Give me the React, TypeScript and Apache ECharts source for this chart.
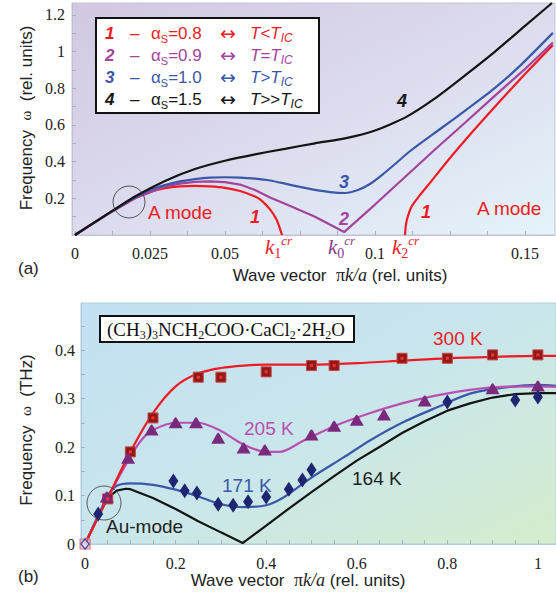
import React, { useEffect, useRef } from 'react';
import * as echarts from 'echarts';

const RED = '#ed1c24';
const PURPLE = '#a3449c';
const PINK = '#b94fb0';
const BLUE = '#3b58a8';
const BLACK = '#141414';

// ---------- Panel (a) ----------
const aXLabels = [0, 0.025, 0.05, 0.1, 0.15];
const aXTicks = [0, 0.0125, 0.025, 0.0375, 0.05, 0.0625, 0.075, 0.0875, 0.1, 0.1125, 0.125, 0.1375, 0.15];
const aYLabels = [0.2, 0.4, 0.6, 0.8, 1, 1.2];
const aYTicks = [0.1, 0.2, 0.3, 0.4, 0.5, 0.6, 0.7, 0.8, 0.9, 1, 1.1, 1.2];

const c4K = [0, 0.01, 0.02, 0.03, 0.04, 0.05, 0.06, 0.07, 0.08, 0.09, 0.1, 0.11, 0.12, 0.13, 0.14, 0.15, 0.159];
const c4W = [0, 0.106, 0.21, 0.295, 0.36, 0.405, 0.44, 0.47, 0.5, 0.527, 0.57, 0.64, 0.745, 0.87, 1.0, 1.14, 1.265];

const c3K = [0, 0.01, 0.02, 0.025, 0.03, 0.035, 0.04, 0.045, 0.05, 0.055, 0.06, 0.065, 0.07, 0.075, 0.08, 0.085, 0.09, 0.0943, 0.0983, 0.1023, 0.1067, 0.1117, 0.1217, 0.1317, 0.14, 0.1483, 0.1593];
const c3W = [0, 0.105, 0.205, 0.245, 0.272, 0.292, 0.305, 0.313, 0.315, 0.313, 0.307, 0.297, 0.28, 0.262, 0.246, 0.234, 0.229, 0.245, 0.278, 0.327, 0.387, 0.458, 0.578, 0.698, 0.802, 0.922, 1.102];

const c2K = [0, 0.01, 0.02, 0.03, 0.035, 0.04, 0.045, 0.05, 0.055, 0.06, 0.065, 0.07, 0.08, 0.0897, 0.1, 0.11, 0.12, 0.13, 0.14, 0.15, 0.1593];
const c2W = [0, 0.105, 0.2, 0.265, 0.28, 0.29, 0.292, 0.288, 0.275, 0.245, 0.205, 0.17, 0.1, 0.016, 0.166, 0.316, 0.466, 0.612, 0.76, 0.905, 1.05];

const c1aK = [0, 0.01, 0.02, 0.025, 0.03, 0.035, 0.04, 0.045, 0.05, 0.055, 0.06, 0.062, 0.065, 0.067, 0.068, 0.069];
const c1aW = [0, 0.105, 0.2, 0.235, 0.255, 0.265, 0.268, 0.265, 0.257, 0.24, 0.21, 0.19, 0.14, 0.09, 0.05, 0];
const c1bK = [0.11, 0.1103, 0.111, 0.1123, 0.115, 0.1183, 0.125, 0.1333, 0.1417, 0.15, 0.1593];
const c1bW = [0, 0.055, 0.104, 0.158, 0.218, 0.284, 0.42, 0.578, 0.731, 0.878, 1.036];

const legendNums = ['1', '2', '3', '4'];
const legendAlpha = ['0.8', '0.9', '1.0', '1.5'];
const legendRel = ['<', '=', '>', '>>'];
const legendColors = [RED, PURPLE, BLUE, BLACK];

// ---------- Panel (b) ----------
const bXLabels = [0, 0.2, 0.4, 0.6, 0.8, 1];
const bXTicks = [0, 0.05, 0.1, 0.15, 0.2, 0.25, 0.3, 0.35, 0.4, 0.45, 0.5, 0.55, 0.6, 0.65, 0.7, 0.75, 0.8, 0.85, 0.9, 0.95, 1];
const bYLabels = [0, 0.1, 0.2, 0.3, 0.4];
const bYTicks = [0, 0.05, 0.1, 0.15, 0.2, 0.25, 0.3, 0.35, 0.4, 0.45];

const t300K = [0, 0.05, 0.1, 0.15, 0.2, 0.25, 0.3, 0.35, 0.4, 0.5, 0.6, 0.7, 0.8, 0.9, 1.0, 1.04];
const t300W = [0, 0.095, 0.19, 0.27, 0.325, 0.352, 0.363, 0.368, 0.37, 0.37, 0.373, 0.378, 0.383, 0.386, 0.388, 0.388];

const t205K = [0, 0.05, 0.1, 0.125, 0.15, 0.2, 0.25, 0.3, 0.35, 0.4, 0.43, 0.48, 0.55, 0.63, 0.7, 0.78, 0.85, 0.92, 1.0, 1.04];
const t205W = [0, 0.095, 0.18, 0.215, 0.235, 0.25, 0.25, 0.233, 0.205, 0.19, 0.19, 0.212, 0.243, 0.27, 0.29, 0.307, 0.318, 0.324, 0.325, 0.324];

const t171K = [0, 0.03, 0.05, 0.07, 0.1, 0.15, 0.2, 0.25, 0.3, 0.35, 0.4, 0.44, 0.5, 0.57, 0.63, 0.7, 0.78, 0.85, 0.92, 1.0, 1.04];
const t171W = [0, 0.06, 0.1, 0.12, 0.125, 0.122, 0.112, 0.098, 0.082, 0.076, 0.08, 0.097, 0.137, 0.178, 0.214, 0.25, 0.283, 0.31, 0.322, 0.328, 0.326];

const t164K = [0, 0.03, 0.05, 0.07, 0.09, 0.1, 0.15, 0.2, 0.25, 0.3, 0.348, 0.4, 0.45, 0.5, 0.55, 0.6, 0.65, 0.7, 0.75, 0.8, 0.85, 0.9, 0.95, 1.0, 1.04];
const t164W = [0, 0.06, 0.095, 0.11, 0.114, 0.113, 0.095, 0.072, 0.047, 0.024, 0.002, 0.038, 0.073, 0.107, 0.14, 0.172, 0.2, 0.229, 0.253, 0.275, 0.29, 0.302, 0.309, 0.311, 0.311];

const sqK = [0.05, 0.1, 0.15, 0.25, 0.3, 0.4, 0.5, 0.55, 0.7, 0.8, 0.9, 1.0];
const sqW = [0.093, 0.19, 0.26, 0.344, 0.344, 0.355, 0.368, 0.368, 0.383, 0.383, 0.39, 0.39];

const triK = [0.048, 0.095, 0.147, 0.2, 0.245, 0.294, 0.35, 0.397, 0.5, 0.55, 0.6, 0.66, 0.75, 0.9, 1.0];
const triW = [0.097, 0.177, 0.235, 0.25, 0.25, 0.218, 0.198, 0.194, 0.225, 0.243, 0.255, 0.266, 0.295, 0.32, 0.326];

const diaK = [0.029, 0.195, 0.22, 0.247, 0.294, 0.327, 0.36, 0.4, 0.45, 0.48, 0.5, 0.8, 0.95, 1.0];
const diaW = [0.062, 0.13, 0.11, 0.105, 0.082, 0.08, 0.087, 0.097, 0.113, 0.132, 0.153, 0.293, 0.297, 0.303];

const originK = [0];
const originW = [0];

const zip = (a: number[], b: number[]) => a.map((v, i) => [v, b[i]]);

const SANS = '"Liberation Sans", Arial, sans-serif';
const SERIF = '"Liberation Serif", "Times New Roman", serif';

function txt(x: number, y: number, text: string, font: string, fill: string, extra: any = {}) {
  return {
    type: 'text', x, y, z: 100,
    style: { text, font, fill, align: 'left', verticalAlign: 'middle', textAlign: 'left', textVerticalAlign: 'middle', ...extra },
  };
}

function richTxt(x: number, y: number, text: string, rich: any, opts: any = {}) {
  const { rotation, align = 'left' } = opts;
  return {
    type: 'text', x, y, z: 100, rotation: rotation || 0,
    style: { text, rich, align, verticalAlign: 'middle', textAlign: align, textVerticalAlign: 'middle' },
  };
}

function kLabel(x: number, y: number, sub: string, color: string) {
  return richTxt(x, y, `{k|k}{s|${sub}}{c|cr}`, {
    k: { fontFamily: SERIF, fontStyle: 'italic', fontSize: 21, fill: color, lineHeight: 26 },
    s: { fontFamily: SERIF, fontSize: 14, fill: color, lineHeight: 26, verticalAlign: 'bottom' },
    c: { fontFamily: SERIF, fontStyle: 'italic', fontSize: 13, fill: color, lineHeight: 26, verticalAlign: 'top' },
  });
}

function buildGraphics() {
  const g: any[] = [];
  // legend box (a)
  g.push({ type: 'rect', z: 90, shape: { x: 96, y: 18, width: 223, height: 95 }, style: { fill: '#ffffff', stroke: '#111', lineWidth: 2 } });
  const rowsY = [33, 55, 77, 99];
  legendNums.forEach((n, i) => {
    const col = legendColors[i];
    const y = rowsY[i];
    g.push(txt(105, y, n, `italic bold 17px ${SANS}`, col));
    g.push(txt(130, y, '–', `17px ${SANS}`, col));
    g.push(richTxt(151, y, `{a|α}{s|S}{a|=${legendAlpha[i]}}`, {
      a: { fontFamily: SANS, fontSize: 17, fill: col, lineHeight: 22 },
      s: { fontFamily: SANS, fontSize: 11, fill: col, lineHeight: 22, verticalAlign: 'bottom' },
    }));
    g.push(txt(220, y, '↔', `19px "DejaVu Sans", sans-serif`, col));
    g.push(richTxt(250, y, `{i|T}{a|${legendRel[i]}}{i|T}{s|IC}`, {
      a: { fontFamily: SANS, fontSize: 17, fill: col, lineHeight: 22 },
      i: { fontFamily: SANS, fontStyle: 'italic', fontSize: 17, fill: col, lineHeight: 22 },
      s: { fontFamily: SANS, fontStyle: 'italic', fontSize: 12, fill: col, lineHeight: 22, verticalAlign: 'bottom' },
    }));
  });
  // curve numbers (a)
  const numFont = `italic bold 18px ${SANS}`;
  g.push(txt(397, 101, '4', numFont, BLACK));
  g.push(txt(339, 182, '3', numFont, BLUE));
  g.push(txt(339, 219, '2', numFont, PURPLE));
  g.push(txt(250, 217, '1', numFont, RED));
  g.push(txt(421, 212, '1', numFont, RED));
  // A mode labels
  g.push(txt(148, 212, 'A mode', `19px ${SANS}`, RED));
  g.push(txt(477, 208, 'A mode', `19px ${SANS}`, RED));
  // circle (a)
  g.push({ type: 'circle', z: 95, shape: { cx: 129, cy: 202, r: 16 }, style: { fill: 'none', stroke: '#333', lineWidth: 0.8 } });
  // k labels
  g.push(kLabel(265, 247, '1', RED));
  g.push(kLabel(328, 247, '0', '#8a3b8c'));
  g.push(kLabel(392, 247, '2', RED));
  // axis titles (a)
  const titleRich = {
    a: { fontFamily: SANS, fontSize: 17, fill: '#222' },
    w: { fontFamily: SERIF, fontSize: 15, fill: '#222' },
    p: { fontFamily: SERIF, fontSize: 18, fill: '#222' },
    i: { fontFamily: SERIF, fontStyle: 'italic', fontSize: 18, fill: '#222' },
  };
  g.push(richTxt(26, 118, '{a|Frequency  }{w|ω}{a|  (rel. units)}', titleRich, { rotation: Math.PI / 2, align: 'center' }));
  g.push(richTxt(340, 275, '{a|Wave vector  }{p|π}{i|k/a}{a| (rel. units)}', titleRich, { align: 'center' }));
  g.push(txt(18, 268, '(a)', `17px ${SANS}`, '#222'));

  // panel (b)
  g.push({ type: 'rect', z: 90, shape: { x: 100, y: 316, width: 254, height: 26 }, style: { fill: '#ffffff', stroke: '#111', lineWidth: 2 } });
  g.push(richTxt(107, 329, '{a|(CH}{s|3}{a|)}{s|3}{a|NCH}{s|2}{a|COO·CaCl}{s|2}{a|·2H}{s|2}{a|O}', {
    a: { fontFamily: SERIF, fontSize: 19, fill: '#111', lineHeight: 24 },
    s: { fontFamily: SERIF, fontSize: 12, fill: '#111', lineHeight: 24, verticalAlign: 'bottom' },
  }));
  g.push(txt(433, 338, '300 K', `19px ${SANS}`, RED));
  g.push(txt(244, 428, '205 K', `19px ${SANS}`, PINK));
  g.push(txt(222, 485, '171 K', `19px ${SANS}`, BLUE));
  g.push(txt(352, 478, '164 K', `19px ${SANS}`, '#222'));
  g.push(txt(106, 526, 'Au-mode', `19px ${SANS}`, '#222'));
  g.push({ type: 'circle', z: 95, shape: { cx: 104, cy: 503, r: 17 }, style: { fill: 'none', stroke: '#333', lineWidth: 0.8 } });
  g.push(richTxt(26, 430, '{a|Frequency  }{w|ω}{a|  (THz)}', titleRich, { rotation: Math.PI / 2, align: 'center' }));
  g.push(richTxt(298, 580, '{a|Wave vector  }{p|π}{i|k/a}{a| (rel. units)}', titleRich, { align: 'center' }));
  g.push(txt(18, 576, '(b)', `17px ${SANS}`, '#222'));
  return g;
}

const lineSeries = (name: string, data: number[][], color: string, idx: number, smooth: number | boolean = false, width = 2.2) => ({
  name, type: 'line', data, xAxisIndex: idx, yAxisIndex: idx, showSymbol: false, symbol: 'none', smooth,
  lineStyle: { color, width }, z: 5, silent: true,
});

export default function App() {
  const ref = useRef<HTMLDivElement>(null);
  useEffect(() => {
    if (!ref.current) return;
    const chart = echarts.init(ref.current, undefined, { renderer: 'svg' });
    const gradA = new echarts.graphic.LinearGradient(0, 0, 1, 1, [
      { offset: 0, color: '#d2c8e1' },
      { offset: 0.5, color: '#dcdbed' },
      { offset: 1, color: '#e4f4fb' },
    ]);
    const gradB = new echarts.graphic.LinearGradient(0, 0, 1, 1, [
      { offset: 0, color: '#c2e0f2' },
      { offset: 0.5, color: '#c9e6ec' },
      { offset: 1, color: '#d5edcd' },
    ]);
    const axisCommon = (labels: number[], ticks: number[], color: string, margin: number) => ({
      type: 'value',
      axisLine: { show: true, onZero: false, lineStyle: { color, width: 1 } },
      axisTick: { show: true, inside: true, length: 4, customValues: ticks, lineStyle: { color: '#a8b0c0' } },
      axisLabel: {
        customValues: labels, margin, fontFamily: SERIF, fontSize: 16, color: '#222',
        formatter: (v: number) => String(+v.toFixed(4)),
      },
      splitLine: { show: false },
    });
    const option: any = {
      animation: false,
      grid: [
        { left: 72, top: 3, width: 483, height: 232, show: true, backgroundColor: gradA, borderColor: '#c4c4d4', borderWidth: 1 },
        { left: 81, top: 303, width: 475, height: 241, show: true, backgroundColor: gradB, borderColor: '#b3cfdf', borderWidth: 1 },
      ],
      xAxis: [
        { ...axisCommon(aXLabels, aXTicks, '#c0c0d0', 10), gridIndex: 0, min: -0.001, max: 0.16 },
        { ...axisCommon(bXLabels, bXTicks, '#b3cfdf', 11), gridIndex: 1, min: -0.009, max: 1.04 },
      ],
      yAxis: [
        { ...axisCommon(aYLabels, aYTicks, '#c0c0d0', 7), gridIndex: 0, min: 0, max: 1.265 },
        { ...axisCommon(bYLabels, bYTicks, '#a9c8dc', 6), gridIndex: 1, min: 0, max: 0.497 },
      ],
      series: [
        lineSeries('curve1a', zip(c1aK, c1aW), RED, 0, 0.2),
        lineSeries('curve1b', zip(c1bK, c1bW), RED, 0, 0.2),
        lineSeries('curve2', zip(c2K, c2W), PURPLE, 0, false),
        lineSeries('curve3', zip(c3K, c3W), BLUE, 0, 0.2),
        lineSeries('curve4', zip(c4K, c4W), BLACK, 0, 0.2),
        lineSeries('164 K', zip(t164K, t164W), BLACK, 1, false),
        lineSeries('171 K', zip(t171K, t171W), BLUE, 1, 0.3),
        lineSeries('205 K', zip(t205K, t205W), PINK, 1, 0.3),
        lineSeries('300 K', zip(t300K, t300W), RED, 1, 0.3),
        {
          name: 'sq', type: 'scatter', xAxisIndex: 1, yAxisIndex: 1, data: zip(sqK, sqW), symbol: 'rect', symbolSize: 10, z: 10,
          itemStyle: { color: '#8e1a1a', borderColor: '#c44', borderWidth: 1, opacity: 1 },
        },
        {
          name: 'sqdot', type: 'scatter', xAxisIndex: 1, yAxisIndex: 1, data: zip(sqK, sqW), symbol: 'rect', symbolSize: 3, z: 11,
          itemStyle: { color: '#ff3030', opacity: 1 },
        },
        {
          name: 'tri', type: 'scatter', xAxisIndex: 1, yAxisIndex: 1, data: zip(triK, triW),
          symbol: 'path://M0,10 L4,2 Q5,0 6,2 L10,10 Z', symbolSize: [14, 11], z: 10,
          itemStyle: { color: '#7a2a7c', opacity: 1 },
        },
        {
          name: 'dia', type: 'scatter', xAxisIndex: 1, yAxisIndex: 1, data: zip(diaK, diaW), symbol: 'diamond', symbolSize: [10, 15], z: 10,
          itemStyle: { color: '#1e2672', opacity: 1 },
        },
        {
          name: 'origin-sq', type: 'scatter', xAxisIndex: 1, yAxisIndex: 1, data: zip(originK, originW), symbol: 'rect', symbolSize: 10, z: 12,
          itemStyle: { color: 'rgba(255,150,170,0.5)', borderColor: '#f07090', borderWidth: 1.2, opacity: 1 },
        },
        {
          name: 'origin-dia', type: 'scatter', xAxisIndex: 1, yAxisIndex: 1, data: zip(originK, originW), symbol: 'diamond', symbolSize: [8, 10], z: 13,
          itemStyle: { color: 'rgba(255,255,255,0.6)', borderColor: '#3b58a8', borderWidth: 1.5, opacity: 1 },
        },
      ],
      graphic: buildGraphics(),
    };
    chart.setOption(option);
    return () => chart.dispose();
  }, []);
  return <div ref={ref} style={{ position: 'absolute', left: 0, top: 0, width: 556, height: 593, background: '#fff' }} />;
}
